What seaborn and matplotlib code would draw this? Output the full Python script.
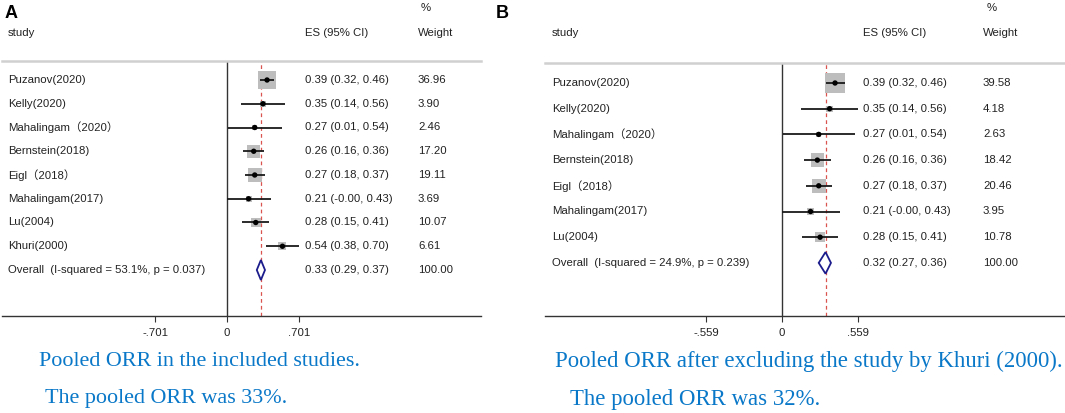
import numpy as np
import pandas as pd
import matplotlib
matplotlib.use('Agg')
import matplotlib.pyplot as plt
import seaborn as sns

sns.set_style('white')
plt.rcParams['font.family'] = ['Liberation Sans', 'Noto Sans CJK SC']

# Panel A data (all studies)
studies_a = ['Puzanov(2020)', 'Kelly(2020)', 'Mahalingam（2020）', 'Bernstein(2018)',
             'Eigl（2018）', 'Mahalingam(2017)', 'Lu(2004)', 'Khuri(2000)']
es_a = [0.39, 0.35, 0.27, 0.26, 0.27, 0.21, 0.28, 0.54]
lo_a = [0.32, 0.14, 0.01, 0.16, 0.18, -0.00, 0.15, 0.38]
hi_a = [0.46, 0.56, 0.54, 0.36, 0.37, 0.43, 0.41, 0.70]
wt_a = [36.96, 3.90, 2.46, 17.20, 19.11, 3.69, 10.07, 6.61]
overall_a = [0.33, 0.29, 0.37]
het_a = 'Overall  (I-squared = 53.1%, p = 0.037)'
tick_a = 0.701
caption_a = ['Pooled ORR in the included studies.', 'The pooled ORR was 33%.']

# Panel B data (Khuri excluded)
studies_b = ['Puzanov(2020)', 'Kelly(2020)', 'Mahalingam（2020）', 'Bernstein(2018)',
             'Eigl（2018）', 'Mahalingam(2017)', 'Lu(2004)']
es_b = [0.39, 0.35, 0.27, 0.26, 0.27, 0.21, 0.28]
lo_b = [0.32, 0.14, 0.01, 0.16, 0.18, -0.00, 0.15]
hi_b = [0.46, 0.56, 0.54, 0.36, 0.37, 0.43, 0.41]
wt_b = [39.58, 4.18, 2.63, 18.42, 20.46, 3.95, 10.78]
overall_b = [0.32, 0.27, 0.36]
het_b = 'Overall  (I-squared = 24.9%, p = 0.239)'
tick_b = 0.559
caption_b = ['Pooled ORR after excluding the study by Khuri (2000).', 'The pooled ORR was 32%.']

W, H = 1065, 413
fig = plt.figure(figsize=(W / 100, H / 100), dpi=100)

TXT = '#222222'
BLUE = '#0a78c8'
FS = 8.2


def forest(px_left, px_right, px_zero, px_per_unit, px_top, px_bottom, px_row0, row_step,
           studies, es, lo, hi, wt, overall, het, tick, x_study, x_es, x_wt):
    ax = fig.add_axes([px_left / W, 1 - px_bottom / H, (px_right - px_left) / W, (px_bottom - px_top) / H])
    xmin = (px_left - px_zero) / px_per_unit
    xmax = (px_right - px_zero) / px_per_unit
    ymin = -(px_row0 - px_top) / row_step
    ymax = (px_bottom - px_row0) / row_step
    ax.set_xlim(xmin, xmax)
    ax.set_ylim(ymax, ymin)

    n = len(studies)
    df = pd.DataFrame({'study': studies, 'es': es, 'lo': lo, 'hi': hi, 'wt': wt, 'row': np.arange(n)})

    # weight boxes (area proportional to weight)
    sns.scatterplot(data=df, x='es', y='row', size='wt', sizes=(5 * min(wt), 5 * max(wt)),
                    size_norm=(min(wt), max(wt)), marker='s', color='#bdbdbd', edgecolor='none',
                    legend=False, ax=ax, zorder=2)
    ax.hlines(df['row'], df['lo'], df['hi'], color='#1a1a1a', lw=1.3, zorder=3)
    sns.scatterplot(data=df, x='es', y='row', color='black', s=15, edgecolor='none',
                    legend=False, ax=ax, zorder=4)

    # overall diamond
    ov, ol, oh = overall
    dh = 0.42
    ax.fill([ol, ov, oh, ov, ol], [n, n - dh, n, n + dh, n], facecolor='white',
            edgecolor='#1c1c8c', lw=1.3, zorder=4)
    ax.axvline(ov, color='#d9534f', ls=(0, (3, 2.5)), lw=0.9, zorder=1)
    ax.axvline(0, color='#333333', lw=1.0, zorder=1)

    # table text
    for i in range(n):
        ax.text(x_study, i, studies[i], ha='left', va='center', fontsize=FS, color=TXT)
        lo_txt = '-0.00' if lo[i] == 0 else '%.2f' % lo[i]
        ax.text(x_es, i, '%.2f (%s, %.2f)' % (es[i], lo_txt, hi[i]), ha='left', va='center',
                fontsize=FS, color=TXT)
        ax.text(x_wt, i, '%.2f' % wt[i], ha='left', va='center', fontsize=FS, color=TXT)
    ax.text(x_study, n, het, ha='left', va='center', fontsize=FS, color=TXT)
    ax.text(x_es, n, '%.2f (%.2f, %.2f)' % (ov, ol, oh), ha='left', va='center', fontsize=FS, color=TXT)
    ax.text(x_wt, n, '100.00', ha='left', va='center', fontsize=FS, color=TXT)

    # headers
    hdr_y = -(px_row0 - 33) / row_step
    pct_y = -(px_row0 - 8) / row_step
    ax.text(x_study, hdr_y, 'study', ha='left', va='center', fontsize=FS, color=TXT, clip_on=False)
    ax.text(x_es, hdr_y, 'ES (95% CI)', ha='left', va='center', fontsize=FS, color=TXT, clip_on=False)
    ax.text(x_wt, hdr_y, 'Weight', ha='left', va='center', fontsize=FS, color=TXT, clip_on=False)
    ax.text(x_wt + 0.03, pct_y, '%', ha='left', va='center', fontsize=FS, color=TXT, clip_on=False)

    # spines and ticks
    for s in ['left', 'right']:
        ax.spines[s].set_visible(False)
    ax.spines['top'].set_color('#d0d0d0')
    ax.spines['top'].set_linewidth(1.8)
    ax.spines['bottom'].set_color('#333333')
    ax.spines['bottom'].set_linewidth(1.0)
    lab = ('%.3f' % tick).lstrip('0')
    ax.set_xticks([-tick, 0, tick])
    ax.set_xticklabels(['-' + lab, '0', lab], fontsize=FS, color=TXT)
    ax.set_yticks([])
    ax.tick_params(axis='x', direction='out', length=4, width=0.8, color='#333333', pad=5, bottom=True)
    ax.set_xlabel('')
    ax.set_ylabel('')
    return ax


forest(2, 481, 227, 102.7, 61, 316, 80, 23.75,
       studies_a, es_a, lo_a, hi_a, wt_a, overall_a, het_a, tick_a,
       (8 - 227) / 102.7, (305 - 227) / 102.7, (418 - 227) / 102.7)
forest(545, 1064, 782, 136.0, 63, 316, 83, 25.7,
       studies_b, es_b, lo_b, hi_b, wt_b, overall_b, het_b, tick_b,
       (552 - 782) / 136.0, (863 - 782) / 136.0, (983 - 782) / 136.0)

# panel letters
fig.text(5 / W, 1 - 14 / H, 'A', fontsize=13, fontweight='bold', color='black', va='center', ha='left')
fig.text(496 / W, 1 - 14 / H, 'B', fontsize=13, fontweight='bold', color='black', va='center', ha='left')

# captions
serif = ['Liberation Serif', 'DejaVu Serif']
fig.text(39 / W, 1 - 361 / H, caption_a[0], fontsize=15.9, color=BLUE, family=serif, va='center', ha='left')
fig.text(45 / W, 1 - 399 / H, caption_a[1], fontsize=15.9, color=BLUE, family=serif, va='center', ha='left')
fig.text(555 / W, 1 - 361 / H, caption_b[0], fontsize=16.4, color=BLUE, family=serif, va='center', ha='left')
fig.text(570 / W, 1 - 399 / H, caption_b[1], fontsize=16.4, color=BLUE, family=serif, va='center', ha='left')

fig.savefig('out.png', dpi=100, facecolor='white')
